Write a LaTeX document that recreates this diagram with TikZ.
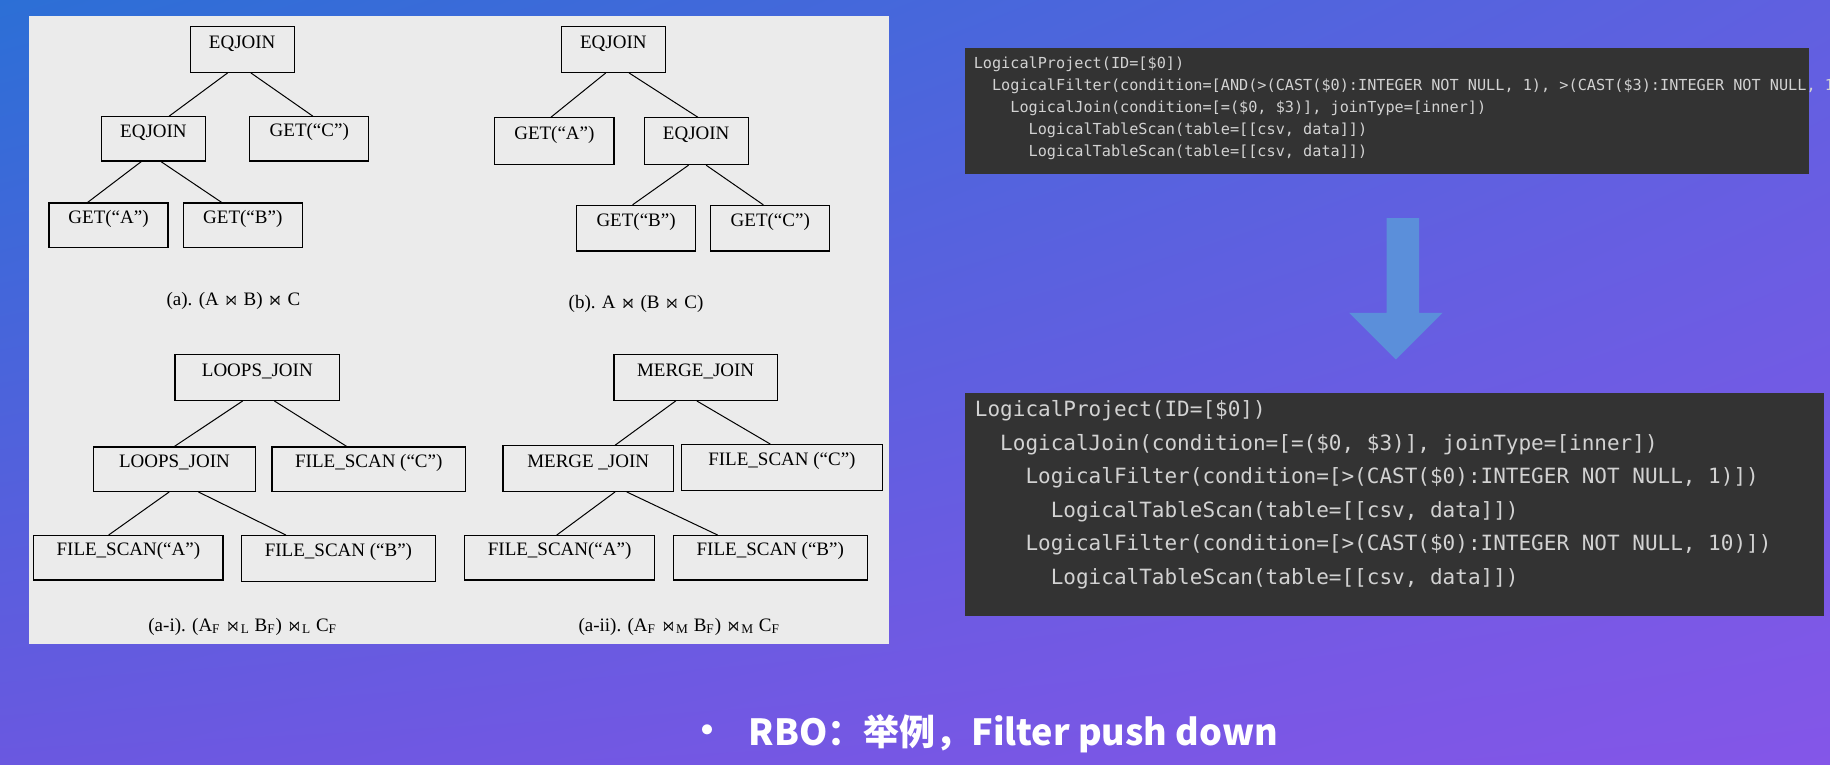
\documentclass[tikz,border=0pt]{standalone}
\usepackage{amssymb}
\usepackage{fontspec}
\setmainfont{Liberation Serif}
\newfontfamily\codefont{DejaVu Sans Mono}
\newfontfamily\cjkfont{Noto Sans CJK SC}
\usetikzlibrary{fit,shadings}
\def\U{0.5835pt}
\definecolor{bgA}{HTML}{2C6FD6}
\definecolor{bgB}{HTML}{6060E0}
\definecolor{bgC}{HTML}{6A58E0}
\definecolor{bgD}{HTML}{8456E8}
\definecolor{panel}{HTML}{EBEBEB}
\definecolor{codebg}{HTML}{333333}
\definecolor{codefg}{HTML}{D2D2D2}
\definecolor{arrowc}{HTML}{5B8FDA}
\tikzset{
  box/.style={draw=black, line width=0.6pt, inner sep=0pt, font=\fontsize{9.5}{11}\selectfont, text=black},
  captxt/.style={font=\fontsize{9.5}{11}\selectfont, text=black},
  edge/.style={draw=black, line width=0.5pt},
  code/.style={anchor=north west, align=left, text=codefg, inner sep=0pt},
}
\begin{document}
\begin{tikzpicture}[x=0.5835pt,y=-0.5835pt]
\useasboundingbox (0,0) rectangle (1568,655);
\shade[upper left=bgA, upper right=bgB, lower left=bgC, lower right=bgD] (0,0) rectangle (1568,655);
% panel
\fill[panel] (25,14) rectangle (762,552);
% tree a
\node[box, fit={(163,23)(252,62)}] (a1) {EQJOIN};
\node[box, fit={(87,100)(176,138)}] (a2) {EQJOIN};
\node[box, fit={(214,100)(316,138)}] (a3) {GET(``C'')};
\node[box, fit={(42,174)(144,212)}] (a4) {GET(``A'')};
\node[box, fit={(157,174)(259,212)}] (a5) {GET(``B'')};
\node[captxt] (ca) at (200,258) {(a). (A $\Join$ B) $\Join$ C};
\draw[edge] ([xshift=-12.5*\U]a1.south) -- ([xshift=13.5*\U]a2.north);
\draw[edge] ([xshift=7.5*\U]a1.south) -- ([xshift=3*\U]a3.north);
\draw[edge] ([xshift=-10.5*\U]a2.south) -- ([xshift=-18*\U]a4.north);
\draw[edge] ([xshift=6.5*\U]a2.south) -- ([xshift=-18*\U]a5.north);
% tree b
\node[box, fit={(481,23)(570,62)}] (b1) {EQJOIN};
\node[box, fit={(424,101)(526,141)}] (b2) {GET(``A'')};
\node[box, fit={(552,101)(641,141)}] (b3) {EQJOIN};
\node[box, fit={(494,176)(596,215)}] (b4) {GET(``B'')};
\node[box, fit={(609,176)(711,215)}] (b5) {GET(``C'')};
\node[captxt] (cb) at (545,260) {(b). A $\Join$ (B $\Join$ C)};
\draw[edge] ([xshift=-6.5*\U]b1.south) -- ([xshift=-3*\U]b2.north);
\draw[edge] ([xshift=13.5*\U]b1.south) -- ([xshift=1.5*\U]b3.north);
\draw[edge] ([xshift=-6.5*\U]b3.south) -- ([xshift=-3*\U]b4.north);
\draw[edge] ([xshift=8.5*\U]b3.south) -- ([xshift=-6*\U]b5.north);
% tree a-i
\node[box, fit={(150,304)(291,343)}] (c1) {LOOPS\_JOIN};
\node[box, fit={(80,383)(219,421)}] (c2) {LOOPS\_JOIN};
\node[box, fit={(233,383)(399,421)}] (c3) {FILE\_SCAN (``C'')};
\node[box, fit={(29,459)(191,497)}] (c4) {FILE\_SCAN(``A'')};
\node[box, fit={(207,459)(373,498)}] (c5) {FILE\_SCAN (``B'')};
\node[captxt] (cc) at (208,537) {(a-i). (A\textsubscript{F} $\Join$\textsubscript{L} B\textsubscript{F}) $\Join$\textsubscript{L} C\textsubscript{F}};
\draw[edge] ([xshift=-12.5*\U]c1.south) -- ([xshift=0*\U]c2.north);
\draw[edge] ([xshift=14.5*\U]c1.south) -- ([xshift=-19*\U]c3.north);
\draw[edge] ([xshift=-4.5*\U]c2.south) -- ([xshift=-17*\U]c4.north);
\draw[edge] ([xshift=20.5*\U]c2.south) -- ([xshift=-45*\U]c5.north);
% tree a-ii
\node[box, fit={(526,304)(666,343)}] (d1) {MERGE\_JOIN};
\node[box, fit={(431,382)(577,421)}] (d2) {MERGE \_JOIN};
\node[box, fit={(584,381)(756,420)}] (d3) {FILE\_SCAN (``C'')};
\node[box, fit={(398,459)(561,497)}] (d4) {FILE\_SCAN(``A'')};
\node[box, fit={(577,459)(743,497)}] (d5) {FILE\_SCAN (``B'')};
\node[captxt] (cd) at (582,537) {(a-ii). (A\textsubscript{F} $\Join$\textsubscript{M} B\textsubscript{F}) $\Join$\textsubscript{M} C\textsubscript{F}};
\draw[edge] ([xshift=-17*\U]d1.south) -- ([xshift=23*\U]d2.north);
\draw[edge] ([xshift=1*\U]d1.south) -- ([xshift=-10*\U]d3.north);
\draw[edge] ([xshift=23*\U]d2.south) -- ([xshift=-2.5*\U]d4.north);
\draw[edge] ([xshift=33*\U]d2.south) -- ([xshift=-45*\U]d5.north);
% code box 1
\fill[codebg] (827,41) rectangle (1550,149);
\node[code, font=\codefont\fontsize{7.6}{11.1}\selectfont] (code1) at (834,48) {%
LogicalProject(ID=[\$0])\\
\phantom{xx}LogicalFilter(condition=[AND(>(CAST(\$0):INTEGER NOT NULL, 1), >(CAST(\$3):INTEGER NOT NULL, 10))])\\
\phantom{xxxx}LogicalJoin(condition=[=(\$0, \$3)], joinType=[inner])\\
\phantom{xxxxxx}LogicalTableScan(table=[[csv, data]])\\
\phantom{xxxxxx}LogicalTableScan(table=[[csv, data]])};
% arrow
\fill[arrowc] (1188,187) -- (1216,187) -- (1216,268) -- (1236,268) -- (1196,308) -- (1156,268) -- (1188,268) -- cycle;
% code box 2
\fill[codebg] (827,337) rectangle (1563,528);
\node[code, font=\codefont\fontsize{10.5}{16.75}\selectfont] (code2) at (835,343) {%
LogicalProject(ID=[\$0])\\
\phantom{xx}LogicalJoin(condition=[=(\$0, \$3)], joinType=[inner])\\
\phantom{xxxx}LogicalFilter(condition=[>(CAST(\$0):INTEGER NOT NULL, 1)])\\
\phantom{xxxxxx}LogicalTableScan(table=[[csv, data]])\\
\phantom{xxxx}LogicalFilter(condition=[>(CAST(\$0):INTEGER NOT NULL, 10)])\\
\phantom{xxxxxx}LogicalTableScan(table=[[csv, data]])};
% title
\node[text=white, font=\cjkfont\bfseries\fontsize{18}{20}\selectfont] (bul) at (606,629) {•};
\node[anchor=west, text=white, inner sep=0pt, font=\cjkfont\bfseries\fontsize{18}{20}\selectfont] (title) at (641,629) {RBO：举例，Filter push down};
\end{tikzpicture}
\end{document}
